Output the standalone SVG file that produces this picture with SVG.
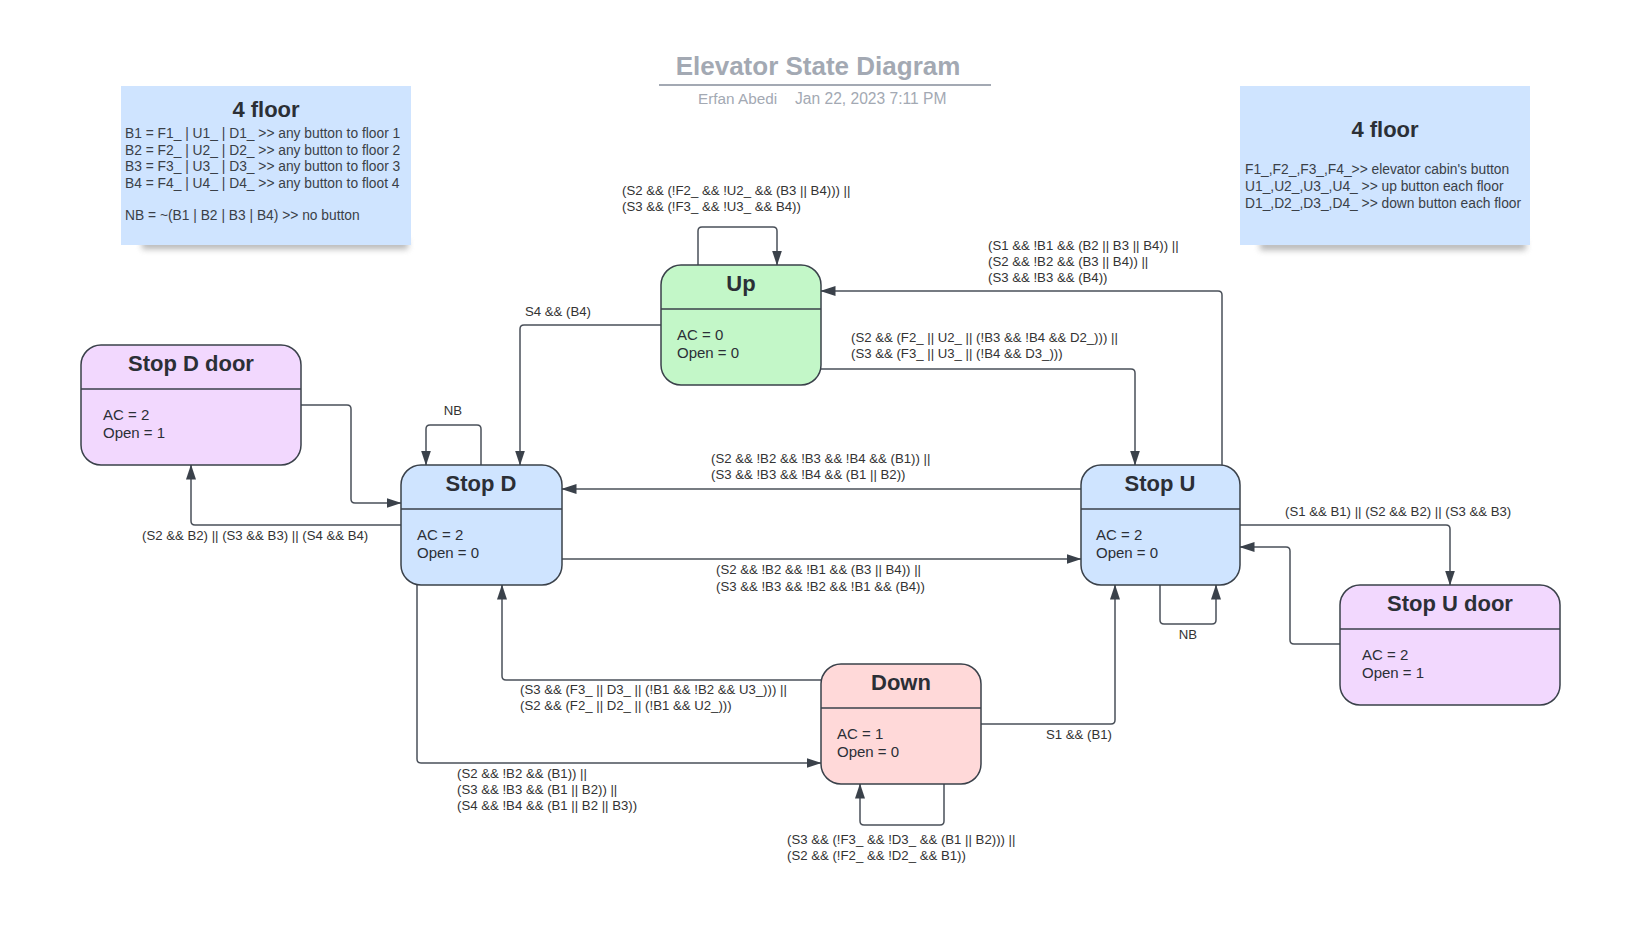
<svg xmlns="http://www.w3.org/2000/svg" width="1648" height="940" viewBox="0 0 1648 940">
<style>
text{font-family:"Liberation Sans",Arial,sans-serif;fill:#2b2f36}
.ttl{font-size:22px;font-weight:bold;text-anchor:middle}
.body{font-size:15px}
.lbl{font-size:13.2px;fill:#333}
.note{font-size:13.8px;fill:#3a3f47}
.node{stroke:#3a414a;stroke-width:1.5}
.div{stroke:#3a414a;stroke-width:1.3}
.con path{fill:none;stroke:#4a5059;stroke-width:1.5;marker-end:url(#arr)}
</style>
<defs>
<marker id="arr" markerUnits="userSpaceOnUse" markerWidth="15" markerHeight="12" viewBox="0 0 15 12" refX="14.5" refY="6" orient="auto">
<path d="M0,1 L15,6 L0,11 z" fill="#3a414a"/>
</marker>
<filter id="blur" x="-10%" y="-100%" width="120%" height="300%"><feGaussianBlur stdDeviation="3"/></filter>
</defs>
<rect width="1648" height="940" fill="#ffffff"/>

<g id="title">
<text x="818" y="75" style="font-size:26px;font-weight:bold;fill:#a3a9b3;text-anchor:middle">Elevator State Diagram</text>
<line x1="659" y1="85" x2="991" y2="85" stroke="#a3a9b3" stroke-width="2"/>
<text x="698" y="104" style="font-size:15.3px;fill:#a3a9b3">Erfan Abedi</text>
<text x="795" y="104" style="font-size:15.6px;fill:#a3a9b3">Jan 22, 2023 7:11 PM</text>
</g>

<g id="note-left">
<rect x="142" y="240" width="266" height="9" fill="#777" opacity="0.55" filter="url(#blur)"/>
<rect x="121" y="86" width="290" height="159" fill="#cfe4ff"/>
<text class="ttl" x="266" y="117">4 floor</text>
<text class="note" x="125" y="138">B1 = F1_ | U1_ | D1_ &gt;&gt; any button to floor 1</text>
<text class="note" x="125" y="154.5">B2 = F2_ | U2_ | D2_ &gt;&gt; any button to floor 2</text>
<text class="note" x="125" y="171">B3 = F3_ | U3_ | D3_ &gt;&gt; any button to floor 3</text>
<text class="note" x="125" y="187.5">B4 = F4_ | U4_ | D4_ &gt;&gt; any button to floot 4</text>
<text class="note" x="125" y="220">NB = ~(B1 | B2 | B3 | B4) &gt;&gt; no button</text>
</g>

<g id="note-right">
<rect x="1260" y="241" width="266" height="9" fill="#777" opacity="0.55" filter="url(#blur)"/>
<rect x="1240" y="86" width="290" height="159" fill="#cfe4ff"/>
<text class="ttl" x="1385" y="137">4 floor</text>
<text class="note" x="1245" y="174">F1_,F2_,F3_,F4_&gt;&gt; elevator cabin's button</text>
<text class="note" x="1245" y="191">U1_,U2_,U3_,U4_ &gt;&gt; up button each floor</text>
<text class="note" x="1245" y="208">D1_,D2_,D3_,D4_ &gt;&gt; down button each floor</text>
</g>

<g id="connectors" class="con">
<path d="M698,265 V231 Q698,227 702,227 H773 Q777,227 777,231 V265"/>
<path d="M1222,465 V295 Q1222,291 1218,291 H821"/>
<path d="M821,369 H1131 Q1135,369 1135,373 V465"/>
<path d="M661,325 H524 Q520,325 520,329 V465"/>
<path d="M301,405 H347 Q351,405 351,409 V499 Q351,503 355,503 H401"/>
<path d="M401,525 H195 Q191,525 191,521 V465"/>
<path d="M481,465 V429 Q481,425 477,425 H430 Q426,425 426,429 V465"/>
<path d="M1081,489 H562"/>
<path d="M562,559 H1081"/>
<path d="M1240,525 H1446 Q1450,525 1450,529 V585"/>
<path d="M1340,644 H1294 Q1290,644 1290,640 V551 Q1290,547 1286,547 H1240"/>
<path d="M1160,585 V620 Q1160,624 1164,624 H1212 Q1216,624 1216,620 V585"/>
<path d="M981,724 H1111 Q1115,724 1115,720 V585"/>
<path d="M821,680 H506 Q502,680 502,676 V585"/>
<path d="M417,585 V759 Q417,763 421,763 H821"/>
<path d="M944,784 V821 Q944,825 940,825 H864 Q860,825 860,821 V784"/>
</g>

<g id="labels">
<text class="lbl" x="622" y="195">(S2 &amp;&amp; (!F2_ &amp;&amp; !U2_ &amp;&amp; (B3 || B4))) ||</text>
<text class="lbl" x="622" y="211">(S3 &amp;&amp; (!F3_ &amp;&amp; !U3_ &amp;&amp; B4))</text>
<text class="lbl" x="988" y="250">(S1 &amp;&amp; !B1 &amp;&amp; (B2 || B3 || B4)) ||</text>
<text class="lbl" x="988" y="266">(S2 &amp;&amp; !B2 &amp;&amp; (B3 || B4)) ||</text>
<text class="lbl" x="988" y="282">(S3 &amp;&amp; !B3 &amp;&amp; (B4))</text>
<text class="lbl" x="851" y="342">(S2 &amp;&amp; (F2_ || U2_ || (!B3 &amp;&amp; !B4 &amp;&amp; D2_))) ||</text>
<text class="lbl" x="851" y="358">(S3 &amp;&amp; (F3_ || U3_ || (!B4 &amp;&amp; D3_)))</text>
<text class="lbl" x="525" y="316">S4 &amp;&amp; (B4)</text>
<text class="lbl" x="142" y="540">(S2 &amp;&amp; B2) || (S3 &amp;&amp; B3) || (S4 &amp;&amp; B4)</text>
<text class="lbl" x="453" y="415" text-anchor="middle">NB</text>
<text class="lbl" x="711" y="463">(S2 &amp;&amp; !B2 &amp;&amp; !B3 &amp;&amp; !B4 &amp;&amp; (B1)) ||</text>
<text class="lbl" x="711" y="479">(S3 &amp;&amp; !B3 &amp;&amp; !B4 &amp;&amp; (B1 || B2))</text>
<text class="lbl" x="716" y="574">(S2 &amp;&amp; !B2 &amp;&amp; !B1 &amp;&amp; (B3 || B4)) ||</text>
<text class="lbl" x="716" y="591">(S3 &amp;&amp; !B3 &amp;&amp; !B2 &amp;&amp; !B1 &amp;&amp; (B4))</text>
<text class="lbl" x="1285" y="516">(S1 &amp;&amp; B1) || (S2 &amp;&amp; B2) || (S3 &amp;&amp; B3)</text>
<text class="lbl" x="1188" y="639" text-anchor="middle">NB</text>
<text class="lbl" x="1046" y="739">S1 &amp;&amp; (B1)</text>
<text class="lbl" x="520" y="694">(S3 &amp;&amp; (F3_ || D3_ || (!B1 &amp;&amp; !B2 &amp;&amp; U3_))) ||</text>
<text class="lbl" x="520" y="710">(S2 &amp;&amp; (F2_ || D2_ || (!B1 &amp;&amp; U2_)))</text>
<text class="lbl" x="457" y="778">(S2 &amp;&amp; !B2 &amp;&amp; (B1)) ||</text>
<text class="lbl" x="457" y="794">(S3 &amp;&amp; !B3 &amp;&amp; (B1 || B2)) ||</text>
<text class="lbl" x="457" y="810">(S4 &amp;&amp; !B4 &amp;&amp; (B1 || B2 || B3))</text>
<text class="lbl" x="787" y="844">(S3 &amp;&amp; (!F3_ &amp;&amp; !D3_ &amp;&amp; (B1 || B2))) ||</text>
<text class="lbl" x="787" y="860">(S2 &amp;&amp; (!F2_ &amp;&amp; !D2_ &amp;&amp; B1))</text>
</g>

<g id="node-up">
<rect class="node" x="661" y="265" width="160" height="120" rx="20" fill="#c3f7c8"/>
<line class="div" x1="661" y1="309" x2="821" y2="309"/>
<text class="ttl" x="741" y="291">Up</text>
<text class="body" x="677" y="340">AC = 0</text>
<text class="body" x="677" y="358">Open = 0</text>
</g>

<g id="node-stopd-door">
<rect class="node" x="81" y="345" width="220" height="120" rx="20" fill="#f2d8fe"/>
<line class="div" x1="81" y1="389" x2="301" y2="389"/>
<text class="ttl" x="191" y="371">Stop D door</text>
<text class="body" x="103" y="420">AC = 2</text>
<text class="body" x="103" y="438">Open = 1</text>
</g>

<g id="node-stopd">
<rect class="node" x="401" y="465" width="161" height="120" rx="20" fill="#cfe4ff"/>
<line class="div" x1="401" y1="509" x2="562" y2="509"/>
<text class="ttl" x="481" y="491">Stop D</text>
<text class="body" x="417" y="540">AC = 2</text>
<text class="body" x="417" y="558">Open = 0</text>
</g>

<g id="node-stopu">
<rect class="node" x="1081" y="465" width="159" height="120" rx="20" fill="#cfe4ff"/>
<line class="div" x1="1081" y1="509" x2="1240" y2="509"/>
<text class="ttl" x="1160" y="491">Stop U</text>
<text class="body" x="1096" y="540">AC = 2</text>
<text class="body" x="1096" y="558">Open = 0</text>
</g>

<g id="node-stopu-door">
<rect class="node" x="1340" y="585" width="220" height="120" rx="20" fill="#f2d8fe"/>
<line class="div" x1="1340" y1="629" x2="1560" y2="629"/>
<text class="ttl" x="1450" y="611">Stop U door</text>
<text class="body" x="1362" y="660">AC = 2</text>
<text class="body" x="1362" y="678">Open = 1</text>
</g>

<g id="node-down">
<rect class="node" x="821" y="664" width="160" height="120" rx="20" fill="#ffd9d9"/>
<line class="div" x1="821" y1="708" x2="981" y2="708"/>
<text class="ttl" x="901" y="690">Down</text>
<text class="body" x="837" y="739">AC = 1</text>
<text class="body" x="837" y="757">Open = 0</text>
</g>
</svg>
